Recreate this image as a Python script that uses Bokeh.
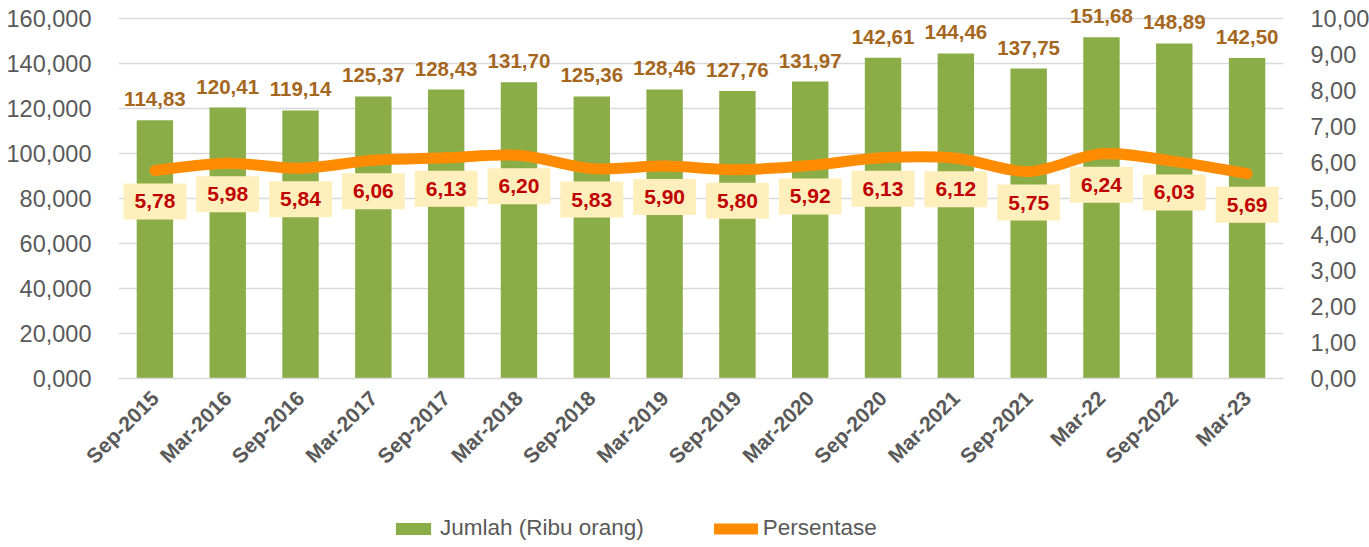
import numpy as np
from bokeh.plotting import figure
from bokeh.layouts import column
from bokeh.models import (ColumnDataSource, Range1d, LinearAxis, FixedTicker,
                          Legend, LegendItem)
from bokeh.core.properties import value
from bokeh.embed import file_html
from bokeh.resources import INLINE

categories = ["Sep-2015", "Mar-2016", "Sep-2016", "Mar-2017", "Sep-2017", "Mar-2018",
              "Sep-2018", "Mar-2019", "Sep-2019", "Mar-2020", "Sep-2020", "Mar-2021",
              "Sep-2021", "Mar-22", "Sep-2022", "Mar-23"]
jumlah = [114.83, 120.41, 119.14, 125.37, 128.43, 131.70, 125.36, 128.46,
          127.76, 131.97, 142.61, 144.46, 137.75, 151.68, 148.89, 142.50]
persen = [5.78, 5.98, 5.84, 6.06, 6.13, 6.20, 5.83, 5.90,
          5.80, 5.92, 6.13, 6.12, 5.75, 6.24, 6.03, 5.69]
left_ticks = [0, 20, 40, 60, 80, 100, 120, 140, 160]
right_ticks = [0, 1, 2, 3, 4, 5, 6, 7, 8, 9, 10]

FONT = "Liberation Sans"
GRAY = "#595959"
GREEN = "#8BAD48"
ORANGE = "#FF8C00"

n = len(categories)
xs = list(range(n))

p = figure(frame_width=1165, frame_height=378, output_backend="svg", toolbar_location=None,
           x_range=Range1d(-0.5, n - 0.5), y_range=Range1d(0, 168),
           min_border_left=118, min_border_right=86, min_border_top=0,
           min_border_bottom=127)
p.outline_line_color = None
p.background_fill_color = "white"
p.border_fill_color = "white"

p.extra_y_ranges = {"pct": Range1d(0, 10.5)}

# axes
p.yaxis.ticker = FixedTicker(ticks=left_ticks)
p.yaxis.major_label_overrides = {t: f"{t},000" for t in left_ticks}
right = LinearAxis(y_range_name="pct", ticker=FixedTicker(ticks=right_ticks))
right.major_label_overrides = {t: f"{t},00" for t in right_ticks}
p.add_layout(right, "right")

for ax in [p.yaxis[0], right]:
    ax.axis_line_color = None
    ax.major_tick_line_color = None
    ax.minor_tick_line_color = None
    ax.major_label_text_font = FONT
    ax.major_label_text_font_size = "23.5px"
    ax.major_label_text_color = GRAY
    ax.major_label_standoff = 21

p.xaxis.ticker = FixedTicker(ticks=xs)
p.xaxis.major_label_overrides = {i: c for i, c in enumerate(categories)}
p.xaxis.major_label_orientation = np.pi / 4
p.xaxis.major_label_text_font = FONT
p.xaxis.major_label_text_font_size = "21px"
p.xaxis.major_label_text_font_style = "bold"
p.xaxis.major_label_text_color = GRAY
p.xaxis.axis_line_color = "#D9D9D9"
p.xaxis.axis_line_width = 1.5
p.xaxis.major_tick_line_color = None
p.xaxis.minor_tick_line_color = None
p.xaxis.major_label_standoff = 10

p.xgrid.grid_line_color = None
p.ygrid.grid_line_color = "#D9D9D9"
p.ygrid.grid_line_width = 1.5

src = ColumnDataSource(dict(
    x=xs, jumlah=jumlah, persen=persen,
    jlab=[f"{v:.2f}".replace(".", ",") for v in jumlah],
    plab=[f"{v:.2f}".replace(".", ",") for v in persen],
))

p.vbar(x="x", top="jumlah", width=0.5, source=src, fill_color=GREEN, line_color=None)

# smoothed line (Catmull-Rom bezier through data points)
px = np.array(xs, dtype=float)
py = np.array(persen, dtype=float)
x0, y0, x1, y1, cx0, cy0, cx1, cy1 = [], [], [], [], [], [], [], []
for i in range(n - 1):
    a = max(i - 1, 0)
    d = min(i + 2, n - 1)
    x0.append(px[i]); y0.append(py[i])
    x1.append(px[i + 1]); y1.append(py[i + 1])
    cx0.append(px[i] + (px[i + 1] - px[a]) / 6); cy0.append(py[i] + (py[i + 1] - py[a]) / 6)
    cx1.append(px[i + 1] - (px[d] - px[i]) / 6); cy1.append(py[i + 1] - (py[d] - py[i]) / 6)
p.bezier(x0=x0, y0=y0, x1=x1, y1=y1, cx0=cx0, cy0=cy0, cx1=cx1, cy1=cy1,
         y_range_name="pct", line_color=ORANGE, line_width=11, line_cap="round")

# bar value labels
p.text(x="x", y="jumlah", text="jlab", source=src, text_align="center",
       text_baseline="middle", y_offset=-21, text_font=value(FONT),
       text_font_size="20.5px", text_font_style="bold", text_color="#A5661E")

# percentage labels
p.text(x="x", y="persen", text="plab", source=src, y_range_name="pct",
       text_align="center", text_baseline="middle", y_offset=31,
       text_font=value(FONT), text_font_size="21px", text_font_style="bold",
       text_color="#C00000", background_fill_color="#FFEFBC",
       padding=11)

# legend strip (separate figure; its glyphs lie outside its visible range)
lg = figure(width=1369, height=42, output_backend="svg", toolbar_location=None,
            x_range=Range1d(-0.5, n - 0.5), y_range=Range1d(1000, 1001),
            x_axis_location=None, y_axis_location=None, min_border=0)
lg.outline_line_color = None
lg.grid.grid_line_color = None
lb = lg.vbar(x="x", top="jumlah", width=0.5, source=src, fill_color=GREEN, line_color=None)
ll = lg.line(x="x", y="persen", source=src, line_color=ORANGE, line_width=11,
             line_cap="round")
legend = Legend(items=[LegendItem(label="Jumlah (Ribu orang)", renderers=[lb]),
                       LegendItem(label="Persentase", renderers=[ll])],
                orientation="horizontal", location=(273, 6),
                label_text_font=FONT, label_text_font_size="22.5px",
                label_text_color=GRAY, glyph_width=44, glyph_height=15,
                label_standoff=5, spacing=70, border_line_color=None,
                background_fill_alpha=0, margin=0, padding=0)
lg.add_layout(legend, "center")

layout = column(p, lg, spacing=0)
open("out.html", "w").write(file_html(layout, INLINE))
